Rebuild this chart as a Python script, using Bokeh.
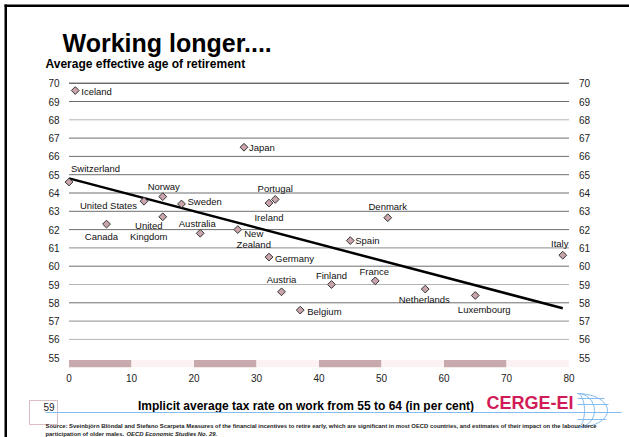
import numpy as np
from bokeh.plotting import figure
from bokeh.models import Range1d, Label, BoxAnnotation, ColumnDataSource
from bokeh.core.properties import value
from bokeh.embed import file_html
from bokeh.resources import INLINE

# ---------------- data ----------------
countries = ["Iceland", "Japan", "Switzerland", "Norway", "United States", "Sweden",
             "Portugal", "Ireland", "Canada", "United Kingdom", "Australia",
             "New Zealand", "Germany", "Austria", "Belgium", "Denmark", "Spain",
             "Italy", "Finland", "France", "Netherlands", "Luxembourg"]
tax_rate = [1, 28, 0, 15, 12, 18, 33, 32, 6, 15, 21, 27, 32, 34, 37, 51, 45, 79,
            42, 49, 57, 65]
retire_age = [69.6, 66.5, 64.6, 63.8, 63.55, 63.4, 63.65, 63.45, 62.3, 62.7, 61.8,
              62.0, 60.5, 58.6, 57.6, 62.65, 61.4, 60.6, 59.0, 59.2, 58.75, 58.4]
trend_x = [0, 79]
trend_y = [64.8, 57.7]
x_ticks = [0, 10, 20, 30, 40, 50, 60, 70, 80]
y_ticks = [55, 56, 57, 58, 59, 60, 61, 62, 63, 64, 65, 66, 67, 68, 69, 70]
grid_levels = [56, 57, 58, 59, 60, 61, 62, 63, 64, 65, 66, 67, 68, 69, 70]

title_text = "Working longer...."
subtitle_text = "Average effective age of retirement"
x_title = "Implicit average tax rate on work from 55 to 64 (in per cent)"
page_no = "59"
logo_text = "CERGE-EI"
source_line1 = ("Source: Sveinbjörn Blöndal and Stefano Scarpeta  Measures of the financial "
                "incentives to retire early, which are significant in most OECD countries, "
                "and estimates of their impact on the labour-force")
source_line2a = "participation of older males. "
source_line2b = "OECD Economic Studies No. 29."

# ---------------- styles / positions ----------------
SANS = "Liberation Sans"
grid_colors = {56: "#b4b4b4", 59: "#b4b4b4", 68: "#b4b4b4", 57: "#8c8c8c",
               61: "#8c8c8c", 70: "#2a2a2a"}
band_dark, band_light = "#c9aaac", "#fcf1f3"
BLUE = "#86bdf0"

# label placement: (align, dx px, dy px (down), display text)
label_pos = {
    "Iceland": ("left", 6, 1, "Iceland"),
    "Japan": ("left", 5, 0, "Japan"),
    "Switzerland": ("left", 2, -14, "Switzerland"),
    "Norway": ("center", 1, -10, "Norway"),
    "United States": ("right", -7, 4, "United States"),
    "Sweden": ("left", 6, -2, "Sweden"),
    "Portugal": ("center", 0, -11, "Portugal"),
    "Ireland": ("center", 0, 14, "Ireland"),
    "Canada": ("center", -5, 12, "Canada"),
    "United Kingdom": ("center", -14, 14, "United\nKingdom"),
    "Australia": ("center", -3, -10, "Australia"),
    "New Zealand": ("center", 16, 9, "New\nZealand"),
    "Germany": ("left", 6, 1, "Germany"),
    "Austria": ("center", 0, -12, "Austria"),
    "Belgium": ("left", 7, 1, "Belgium"),
    "Denmark": ("center", 0, -11, "Denmark"),
    "Spain": ("left", 5, 0, "Spain"),
    "Italy": ("center", -3, -12, "Italy"),
    "Finland": ("center", 0, -9, "Finland"),
    "France": ("center", -1, -9, "France"),
    "Netherlands": ("center", -1, 10, "Netherlands"),
    "Luxembourg": ("center", 9, 14, "Luxembourg"),
}

W, H = 629, 437
# page-pixel geometry of the chart area
X0_PX, SX = 68.5, 6.25          # x = 0 at 68.5 px, 6.25 px per unit
Y70_PX, SY = 82.7, 18.3         # y = 70 at 82.7 px, 18.3 px per unit


def dxp(px):
    return (px - X0_PX) / SX


def dyp(py):
    return 70 - (py - Y70_PX) / SY


p = figure(width=W, height=H, output_backend="svg", toolbar_location=None,
           x_range=Range1d(dxp(0), dxp(W)), y_range=Range1d(dyp(H), dyp(0)),
           min_border=0, x_axis_location=None, y_axis_location=None)
p.outline_line_color = None
p.xgrid.visible = False
p.ygrid.visible = False
p.background_fill_color = "white"
p.border_fill_color = "white"

# gridlines
p.segment(x0=x_ticks[0], x1=x_ticks[-1], y0=grid_levels, y1=grid_levels,
          line_color=[grid_colors.get(g, "#6e6e6e") for g in grid_levels],
          line_width=1)

# bands along the bottom
p.quad(left=x_ticks[:-1], right=x_ticks[1:], bottom=54.48, top=54.88,
       fill_color=[band_dark if i % 2 == 0 else band_light for i in range(len(x_ticks) - 1)],
       line_color=None)

# tick labels (left, right, bottom)
tick_font = value(SANS)
p.text(x=[x_ticks[0]] * len(y_ticks), y=y_ticks, text=[str(t) for t in y_ticks],
       x_offset=-9.5, text_align="right", text_baseline="middle",
       text_font=tick_font, text_font_size="10px", text_color="#222222")
p.text(x=[x_ticks[-1]] * len(y_ticks), y=y_ticks, text=[str(t) for t in y_ticks],
       x_offset=10, text_align="left", text_baseline="middle",
       text_font=tick_font, text_font_size="10px", text_color="#222222")
p.text(x=x_ticks, y=[y_ticks[0]] * len(x_ticks), text=[str(t) for t in x_ticks],
       y_offset=20, text_align="center", text_baseline="middle",
       text_font=tick_font, text_font_size="10px", text_color="#222222")

# trend line
p.line(trend_x, trend_y, line_color="black", line_width=2.5)

# markers
p.scatter(tax_rate, retire_age, marker="square", angle=0.785398, size=5.5,
          fill_color="#c9a5ab", line_color="#333333", line_width=1)

# country labels
src = ColumnDataSource(dict(
    x=tax_rate, y=retire_age,
    text=[label_pos[c][3] for c in countries],
    align=[label_pos[c][0] for c in countries],
    dx=[label_pos[c][1] for c in countries],
    dy=[label_pos[c][2] for c in countries],
))
p.text(x="x", y="y", text="text", x_offset="dx", y_offset="dy", text_align="align",
       text_baseline="middle", text_font=value(SANS), text_font_size="9.5px",
       text_line_height=1.0, text_color="#111111", source=src)


# ---------------- titles and footer ----------------
def add_label(px, baseline_px, text, size, style="normal", color="black", align="left"):
    # Label's alphabetic baseline renders ~0.32 em low; compensate
    p.add_layout(Label(x=dxp(px), y=dyp(baseline_px - 0.32 * size), text=text,
                       text_font=SANS, text_font_style=style,
                       text_font_size=f"{size}px", text_color=color,
                       text_align=align, text_baseline="alphabetic"))


add_label(62, 50.5, title_text, 25, "bold")
add_label(45, 67, subtitle_text, 12, "bold")
add_label(305.5, 409, x_title, 12, "bold", align="center")
add_label(43, 410, page_no, 10, color="#222222")
add_label(486, 408, logo_text, 18, "bold", color="#d11b58")
add_label(45, 427.5, source_line1, 5.9, "bold", color="#222222")
add_label(45, 435.5, source_line2a, 5.9, "bold", color="#222222")
add_label(126, 435.5, source_line2b, 5.9, "bold italic", color="#222222")

# page number box, blue rule, slide border
p.add_layout(BoxAnnotation(left=dxp(29), right=dxp(57), top=dyp(400), bottom=dyp(424),
                           fill_alpha=0, line_color="#8b2a38", line_width=1))
p.add_layout(BoxAnnotation(left=dxp(45), right=dxp(621), top=dyp(411.5), bottom=dyp(412.5),
                           fill_color=BLUE, fill_alpha=1, line_color=None))
p.add_layout(BoxAnnotation(left=dxp(4), right=dxp(W), top=dyp(4), bottom=dyp(6.5),
                           fill_color="black", fill_alpha=1, line_color=None))
p.add_layout(BoxAnnotation(left=dxp(4), right=dxp(6.5), top=dyp(4), bottom=dyp(H),
                           fill_color="black", fill_alpha=1, line_color=None))

# globe lines of the CERGE-EI logo (decoration)
t = np.linspace(-np.pi / 2, np.pi / 2, 25)
gxs, gys = [], []
for rx in (7, 17, 30):
    gxs.append([dxp(577 + rx * np.cos(a)) for a in t])
    gys.append([dyp(410 + 17 * np.sin(a)) for a in t])
for yy, x_end in ((398, 604), (404, 608), (419, 606)):
    gxs.append([dxp(577), dxp(x_end)])
    gys.append([dyp(yy), dyp(yy)])
p.multi_line(gxs, gys, line_color=BLUE, line_width=1)

open("out.html", "w").write(file_html(p, INLINE))
